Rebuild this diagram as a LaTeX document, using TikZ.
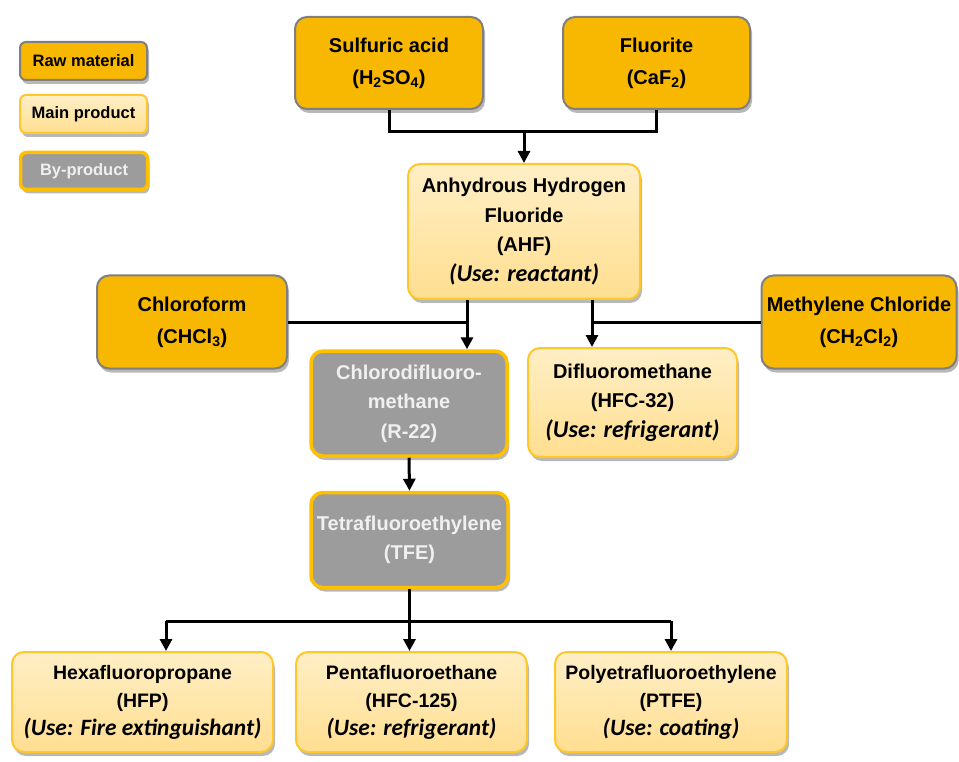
\documentclass[tikz,border=0pt]{standalone}
\usepackage{fontspec}
\setmainfont{Liberation Sans}
\newfontfamily\carl[Scale=1.2]{Carlito}
\usetikzlibrary{arrows.meta,shadows,calc}
\definecolor{rawfill}{HTML}{F8B700}
\definecolor{rawdraw}{HTML}{7F7F7F}
\definecolor{maintop}{HTML}{FFEFC6}
\definecolor{mainbot}{HTML}{FFDE90}
\definecolor{maindraw}{HTML}{FFC72C}
\definecolor{byfill}{HTML}{9C9C9C}
\definecolor{bydraw}{HTML}{FFC000}
\newcommand{\usel}[1]{{\carl\bfseries\itshape #1}}
\begin{document}
\begin{tikzpicture}[x=1pt,y=-1pt,
  base/.style={rounded corners=12pt, align=center, inner sep=2pt,
    font=\fontsize{20}{29.5}\selectfont\bfseries,
    drop shadow={fill=black, opacity=0.28, shadow xshift=2pt, shadow yshift=-4pt}},
  rawbox/.style={base, fill=rawfill, draw=rawdraw, line width=2pt, font=\fontsize{20}{32}\selectfont\bfseries},
  mainbox/.style={base, top color=maintop, bottom color=mainbot, draw=maindraw, line width=2pt},
  bybox/.style={base, fill=byfill, draw=bydraw, line width=3.5pt, text=white!94!black},
  legend/.style={rounded corners=6pt, font=\fontsize{16.5}{18}\selectfont\bfseries},
  conn/.style={line width=3pt, black},
  arr/.style={conn, -{Triangle[width=12pt,length=12pt]}}]
\useasboundingbox (0,0) rectangle (959,762);
% legend
\node[rawbox, legend, minimum width=127pt, minimum height=38pt] (leg1) at (83.5,61) {Raw material};
\node[mainbox, legend, minimum width=127pt, minimum height=38pt] (leg2) at (83.5,114) {Main product};
\node[bybox, legend, minimum width=127pt, minimum height=37pt] (leg3) at (84,171) {By-product};
% raw materials
\node[rawbox, minimum width=188pt, minimum height=92pt] (sulf) at (389,63) {Sulfuric acid\\(H\textsubscript{2}SO\textsubscript{4})};
\node[rawbox, minimum width=187pt, minimum height=92pt] (fluor) at (656.5,63) {Fluorite\\(CaF\textsubscript{2})};
\node[mainbox, minimum width=232pt, minimum height=135pt] (ahf) at (524,231.5) {Anhydrous Hydrogen\\Fluoride\\(AHF)\\\usel{(Use: reactant)}};
\node[rawbox, minimum width=190pt, minimum height=93pt] (chloro) at (192,322) {Chloroform\\(CHCl\textsubscript{3})};
\node[rawbox, minimum width=195pt, minimum height=93pt] (methyl) at (859,322) {Methylene Chloride\\(CH\textsubscript{2}Cl\textsubscript{2})};
\node[bybox, minimum width=196pt, minimum height=105pt] (r22) at (409,403.5) {Chlorodifluoro-\\methane\\(R-22)};
\node[mainbox, minimum width=209pt, minimum height=109pt] (difl) at (632.5,402.5) {Difluoromethane\\(HFC-32)\\\usel{(Use: refrigerant)}};
\node[bybox, minimum width=197pt, minimum height=95pt] (tfe) at (409.5,540) {Tetrafluoroethylene\\(TFE)};
\node[mainbox, minimum width=261pt, minimum height=100pt, font=\fontsize{19.5}{28}\selectfont\bfseries] (hfp) at (142.5,702) {Hexafluoropropane\\(HFP)\\\usel{(Use: Fire extinguishant)}};
\node[mainbox, minimum width=231pt, minimum height=100pt, font=\fontsize{19.5}{28}\selectfont\bfseries] (hfc) at (411.5,702) {Pentafluoroethane\\(HFC-125)\\\usel{(Use: refrigerant)}};
\node[mainbox, minimum width=232pt, minimum height=100pt, font=\fontsize{19.5}{28}\selectfont\bfseries] (ptfe) at (671,702) {Polyetrafluoroethylene\\(PTFE)\\\usel{(Use: coating)}};
% connectors top
\coordinate (j1) at (524,132);
\draw[conn] (sulf.south) |- (j1) -| (fluor.south);
\draw[arr] (j1) -- (ahf.north);
% left branch
\coordinate (a1) at ($(ahf.south)+(-57,0)$);
\coordinate (a2) at (a1 |- r22.north);
\coordinate (a3) at (a1 |- chloro.east);
\draw[arr] (a1) -- (a2);
\draw[conn] (chloro.east) -- (a3);
% right branch
\coordinate (b1) at ($(ahf.south)+(68,0)$);
\coordinate (b2) at (b1 |- difl.north);
\coordinate (b3) at (b1 |- methyl.west);
\draw[arr] (b1) -- (b2);
\draw[conn] (methyl.west) -- (b3);
% r22 -> tfe
\draw[arr] (r22.south) -- (tfe.north);
% tfe -> products
\coordinate (t1) at (tfe.south |- 0,621);
\coordinate (h1) at (166,621);
\coordinate (p1) at (ptfe.north |- 0,621);
\draw[conn] (tfe.south) -- (t1);
\draw[conn] (h1) -- (p1);
\draw[arr] (h1) -- (h1 |- hfp.north);
\draw[arr] (t1) -- (t1 |- hfc.north);
\draw[arr] (p1) -- (ptfe.north);
\end{tikzpicture}
\end{document}
